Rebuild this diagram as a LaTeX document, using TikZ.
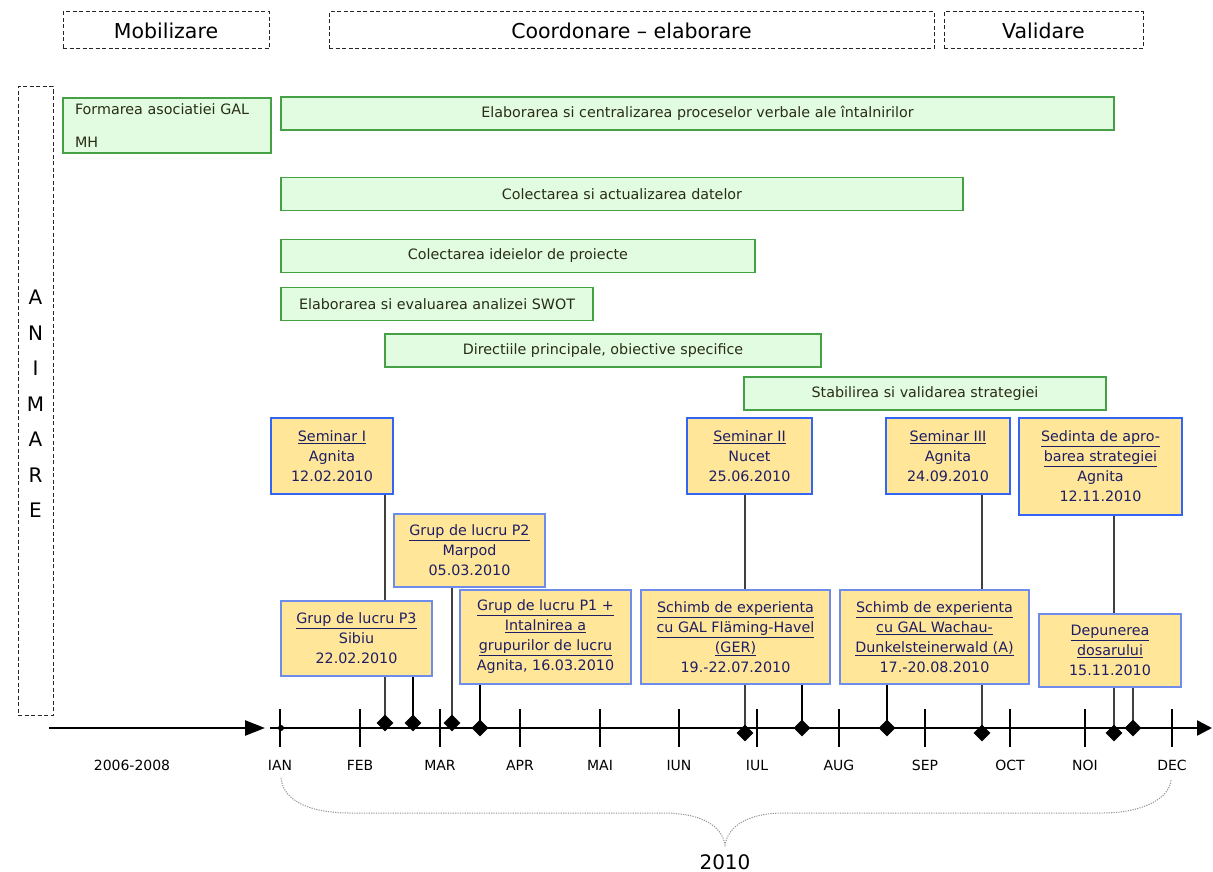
\documentclass[tikz,border=0pt]{standalone}
\usepackage{fontspec}
\setmainfont{DejaVu Sans}
\usetikzlibrary{shapes.geometric, arrows.meta, backgrounds}

\definecolor{barfill}{RGB}{226,252,226}
\definecolor{barline}{RGB}{70,160,70}
\definecolor{bartext}{RGB}{40,45,20}
\definecolor{evtfill}{RGB}{255,230,153}
\definecolor{evtline}{RGB}{110,140,235}
\definecolor{semline}{RGB}{50,100,245}
\definecolor{evttext}{RGB}{30,30,100}

\tikzset{
  phase/.style={draw=black!85, dash pattern=on 4pt off 2.5pt, line width=1pt, minimum height=37pt, font=\fontsize{20.5}{24}\selectfont},
  task/.style={draw=barline, fill=barfill, line width=1.3pt, minimum height=33pt, text=bartext, font=\fontsize{14.3}{20}\selectfont},
  event/.style={draw=evtline, fill=evtfill, line width=1.3pt, align=center, text=evttext, inner sep=0pt, font=\fontsize{14.3}{20}\selectfont},
  seminar/.style={event, draw=semline, line width=2.6pt},
  milestone/.style={diamond, fill=black, minimum size=17pt, inner sep=0pt},
  thinlink/.style={draw=black!75, line width=1.2pt},
  thicklink/.style={draw=black, line width=2.5pt},
  month/.style={font=\fontsize{14}{16}\selectfont},
}

\begin{document}
\begin{tikzpicture}[x=1pt, y=-1pt]
\useasboundingbox (0,0) rectangle (1213,872);
% faze
\node[phase, minimum width=206pt] (mobil) at (166,30.5) {Mobilizare};
\node[phase, minimum width=605pt] (coord) at (631.5,30.5) {Coordonare – elaborare};
\node[phase, minimum width=199pt] (valid) at (1043.5,30.5) {Validare};
\node[phase, minimum width=35pt, minimum height=628pt] (anim) at (35.5,401) {};
\node[align=center, font=\fontsize{20}{35.5}\selectfont] (animtext) at (35.5,404) {A\\N\\I\\M\\A\\R\\E};

% activitati
\node[task, minimum width=208pt, minimum height=55pt, text width=184pt, align=left,
      font=\fontsize{14.3}{30}\selectfont] (formare) at (167,125.5) {\raisebox{3pt}{Formarea asociatiei GAL}\\MH};
\node[task, minimum width=833pt] (proces) at (697.5,113.5) {Elaborarea si centralizarea proceselor verbale ale întalnirilor};
\node[task, minimum width=682pt] (date) at (622,194) {Colectarea si actualizarea datelor};
\node[task, minimum width=474pt] (idei) at (518,256) {Colectarea ideielor de proiecte};
\node[task, minimum width=312pt] (swot) at (437,304) {Elaborarea si evaluarea analizei SWOT};
\node[task, minimum width=436pt] (directii) at (603,350.5) {Directiile principale, obiective specifice};
\node[task, minimum width=362pt] (strategie) at (925,393.5) {Stabilirea si validarea strategiei};

% evenimente
\node[seminar, minimum width=122pt, minimum height=76pt] (sem1) at (332,456) {\underline{Seminar I}\\Agnita\\12.02.2010};
\node[seminar, minimum width=125pt, minimum height=76pt] (sem2) at (749.5,456) {\underline{Seminar II}\\Nucet\\25.06.2010};
\node[seminar, minimum width=124pt, minimum height=76pt] (sem3) at (948,456) {\underline{Seminar III}\\Agnita\\24.09.2010};
\node[seminar, minimum width=163pt, minimum height=97pt] (sedinta) at (1100.5,466.5) {\underline{Sedinta de apro-}\\\underline{barea strategiei}\\Agnita\\12.11.2010};
\node[event, minimum width=151pt, minimum height=73pt] (p2) at (469.5,550.5) {\underline{Grup de lucru P2}\\Marpod\\05.03.2010};
\node[event, minimum width=151pt, minimum height=75pt] (p3) at (356.5,638.5) {\underline{Grup de lucru P3}\\Sibiu\\22.02.2010};
\node[event, minimum width=171pt, minimum height=94pt] (p1) at (545.5,637) {\underline{Grup de lucru P1 +}\\\underline{Intalnirea a}\\\underline{grupurilor de lucru}\\Agnita, 16.03.2010};
\node[event, minimum width=189pt, minimum height=94pt] (schimb1) at (735.5,637) {\underline{Schimb de experienta}\\\underline{cu GAL Fläming-Havel}\\\underline{(GER)}\\19.-22.07.2010};
\node[event, minimum width=189pt, minimum height=94pt] (schimb2) at (934.5,637) {\underline{Schimb de experienta}\\\underline{cu GAL Wachau-}\\\underline{Dunkelsteinerwald (A)}\\17.-20.08.2010};
\node[event, minimum width=142pt, minimum height=73pt] (depun) at (1110,650.5) {\underline{Depunerea}\\\underline{dosarului}\\15.11.2010};

% repere pe axa
\node[milestone] (d1) at (385,723) {};
\node[milestone] (d2) at (413,723) {};
\node[milestone] (d3) at (452,723) {};
\node[milestone] (d4) at (480,728) {};
\node[milestone] (d5) at (745,733) {};
\node[milestone] (d6) at (802,728) {};
\node[milestone] (d7) at (887,728) {};
\node[milestone] (d8) at (982,733) {};
\node[milestone] (d9) at (1114,733) {};
\node[milestone] (d10) at (1133,728) {};

\begin{scope}[on background layer]
\draw[thinlink] (sem1.south -| d1) -- (d1.center);
\draw[thicklink] (p3.south -| d2) -- (d2.center);
\draw[thinlink] (p2.south -| d3) -- (d3.center);
\draw[thicklink] (p1.south -| d4) -- (d4.center);
\draw[thinlink] (sem2.south -| d5) -- (d5.center);
\draw[thicklink] (schimb1.south -| d6) -- (d6.center);
\draw[thicklink] (schimb2.south -| d7) -- (d7.center);
\draw[thinlink] (sem3.south -| d8) -- (d8.center);
\draw[thinlink] (sedinta.south -| d9) -- (d9.center);
\draw[thinlink] (depun.south -| d10) -- (d10.center);
\end{scope}

% axa timpului
\coordinate (axstart) at (49,728);
\coordinate (axpre) at (265,728);
\coordinate (axian) at (270,728);
\coordinate (axend) at (1212,728);
\draw[line width=2.5pt, -{Triangle[length=20pt,width=15pt]}] (axstart) -- (axpre);
\draw[line width=2.5pt, -{Triangle[length=15pt,width=15pt]}] (axian) -- (axend);
\fill (281,728) circle (3pt);
\foreach \x/\m [count=\i] in {280/IAN, 360/FEB, 440/MAR, 520/APR, 600/MAI, 679/IUN,
    757/IUL, 839/AUG, 925/SEP, 1010/OCT, 1085/NOI, 1172/DEC}{
  \draw[line width=2.5pt] (\x,709) -- (\x,747);
  \node[month] (mon\i) at (\x,765) {\m};
}
\node[month] (ani) at (132,765) {2006-2008};

% acolada 2010
\draw[gray!85, dash pattern=on 1.2pt off 1.2pt, line width=1pt] (281,778) .. controls (284,805) and (318,813) .. (350,813)
  -- (663,813) .. controls (702,813) and (722,826) .. (725,845)
  .. controls (728,826) and (748,813) .. (784,813) -- (1102,813)
  .. controls (1140,813) and (1169,800) .. (1171,780);
\node[font=\fontsize{20}{24}\selectfont] (an2010) at (725,862) {2010};
\end{tikzpicture}
\end{document}
